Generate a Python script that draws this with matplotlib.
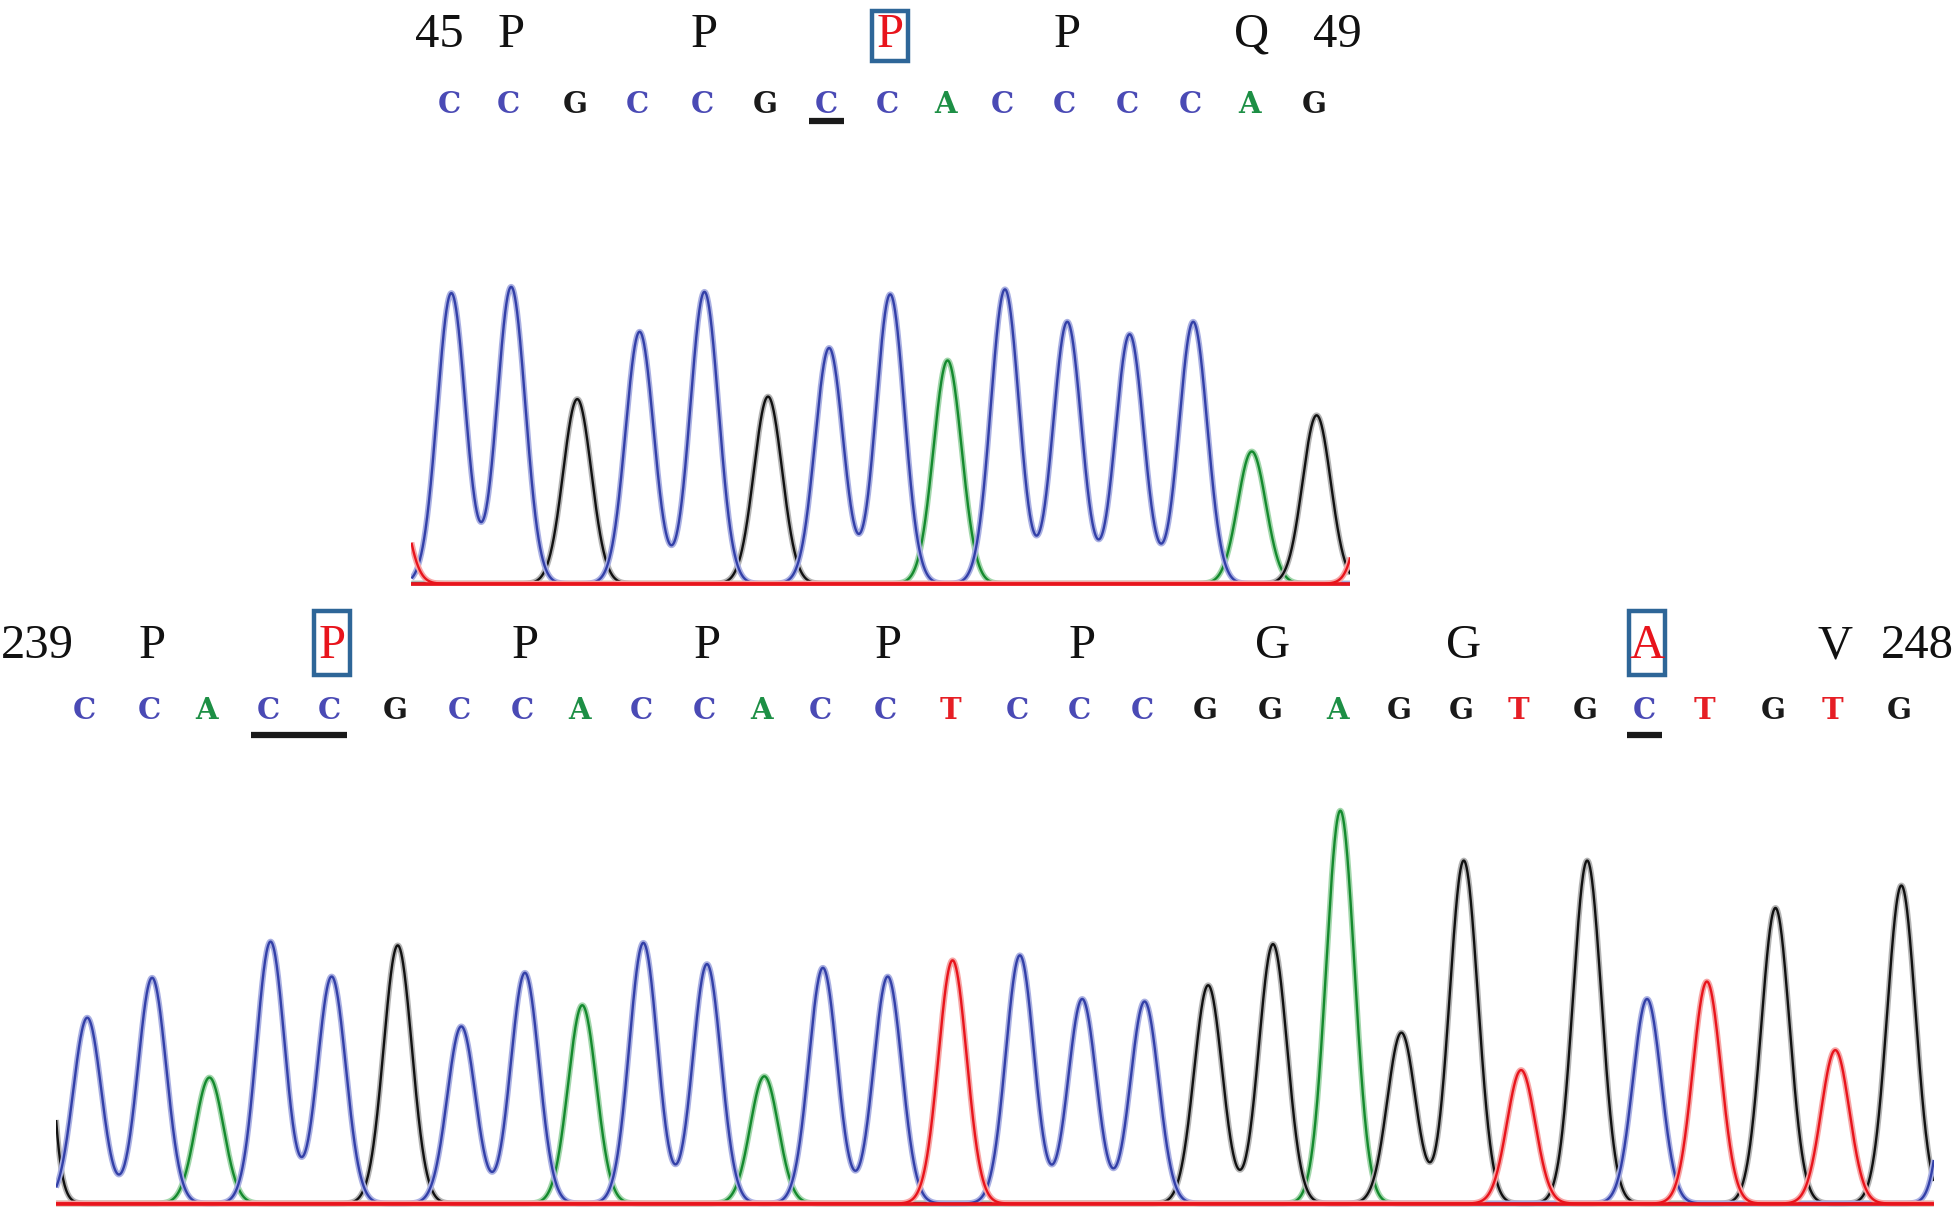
import matplotlib
matplotlib.use("Agg")
import matplotlib.pyplot as plt
from matplotlib.patches import Rectangle
import numpy as np

# ---- data ----
# x values are scan positions of the peaks (arbitrary units), heights in signal units

# upper read (codons 45-49)
top_bases = "CCGCCGCCACCCCAG"
top_pos = [362, 410, 463, 513, 565, 616, 665, 714, 760, 806, 856, 906, 957, 1004, 1056]
top_heights = [233, 238, 148, 202, 234, 150, 189, 232, 179, 236, 210, 200, 210, 106, 135]
top_aa = ["P", "P", "P", "P", "Q"]
top_num = ["45", "49"]
top_mut_codons = [2]
top_underlines = [(6, 6)]
# peaks just outside the shown window (only their tails are visible)
top_edge_bases = ["T", "T"]
top_edge_pos = [312, 1106]
top_edge_heights = [117, 167]

# lower read (codons 239-248)
bot_bases = "CCACCGCCACCACCTCCCGGAGGTGCTGTG"
bot_pos = [70, 122, 168, 217, 266, 319, 370, 421, 467, 516,
           567, 613, 660, 712, 764, 818, 868, 918, 969, 1021,
           1075, 1124, 1174, 1220, 1273, 1321, 1369, 1424, 1472, 1525]
bot_heights = [149, 181, 101, 210, 182, 207, 142, 185, 159, 209,
               192, 102, 189, 182, 195, 199, 164, 162, 175, 208,
               315, 137, 275, 107, 275, 164, 178, 237, 123, 255]
bot_aa = ["P", "P", "P", "P", "P", "P", "G", "G", "A", "V"]
bot_num = ["239", "248"]
bot_mut_codons = [1, 8]
bot_underlines = [(3, 4), (25, 25)]
bot_edge_bases = ["G", "C"]
bot_edge_pos = [20, 1575]
bot_edge_heights = [774, 333]

# ---- styles ----
trace_col = {"C": "#3340a8", "A": "#148a2e", "G": "#111111", "T": "#e8141c"}
halo_col = {"C": "#aab0e2", "A": "#a2d6ab", "G": "#b4b4b4", "T": "#f6a6a6"}
letter_col = {"C": "#4a4ab5", "A": "#1d8f45", "G": "#1a1a1a", "T": "#e61e25"}
mut_red = "#e8141c"
box_blue = "#2e6698"
SIGMA = 11.3
serif = ["Liberation Serif", "DejaVu Serif"]

fig = plt.figure(figsize=(19.55, 12.11), dpi=100)


def draw_panel(ax, bases, pos, heights, edge_b, edge_p, edge_h, xlim,
               aa, nums, num_x, mut_codons, underlines,
               y_aa, y_base, y_ul, box_y, under_black=False):
    x = np.linspace(xlim[0], xlim[1], 4000)
    pp = list(pos) + list(edge_p)
    bb = list(bases) + list(edge_b)
    hh = list(heights) + list(edge_h)
    if under_black:
        ax.plot(xlim, [-2.5, -2.5], color="#111111", lw=2.2, solid_capstyle="butt")
    for b in ["A", "G", "C", "T"]:
        y = np.zeros_like(x)
        for p, base, h in zip(pp, bb, hh):
            if base == b:
                y += h * np.exp(-(x - p) ** 2 / (2 * SIGMA ** 2))
        ax.plot(x, y, color=halo_col[b], lw=4.2, solid_capstyle="butt")
        ax.plot(x, y, color=trace_col[b], lw=1.7, solid_capstyle="butt")
    ax.plot(xlim, [0, 0], color=trace_col["T"], lw=2.6, solid_capstyle="butt")

    # called bases, drawn a touch left of their peaks as in the viewer
    for p, b in zip(pos, bases):
        ax.text(p - 2, y_base, b, color=letter_col[b], ha="center", va="center",
                fontsize=21, fontweight="bold", family="DejaVu Serif",
                clip_on=False)
    for a, b in underlines:
        ax.plot([pos[a] - 16, pos[b] + 12], [y_ul, y_ul], color="#1a1a1a", lw=4.5,
                solid_capstyle="butt", clip_on=False)

    # amino acids over the middle base of each codon
    for k, a in enumerate(aa):
        c = pos[3 * k + 1]
        col = mut_red if k in mut_codons else "#111111"
        ax.text(c, y_aa, a, color=col, ha="center", va="center",
                fontsize=35, family=serif, clip_on=False)
        if k in mut_codons:
            ax.add_patch(Rectangle((c - 14.5, box_y[0]), 29, box_y[1] - box_y[0],
                                   fill=False, ec=box_blue, lw=3.2, clip_on=False))
    for n, nx in zip(nums, num_x):
        ax.text(nx, y_aa, n, color="#111111", ha="center", va="center",
                fontsize=35, family=serif, clip_on=False)


# upper panel: baseline at display y 468 of 971
xl1 = (330, 1083)
ax1 = fig.add_axes([xl1[0] / 1568, 1 - 470 / 971, (xl1[1] - xl1[0]) / 1568, 470 / 971])
ax1.set_xlim(*xl1)
ax1.set_ylim(-2, 468)
ax1.axis("off")
draw_panel(ax1, top_bases, top_pos, top_heights, top_edge_bases, top_edge_pos,
           top_edge_heights, xl1, top_aa, top_num, [352, 1073], top_mut_codons,
           top_underlines, y_aa=440, y_base=384, y_ul=371, box_y=(419, 459),
           under_black=True)

# lower panel: baseline at display y 965
xl2 = (45, 1551)
ax2 = fig.add_axes([xl2[0] / 1568, 1 - 968 / 971, (xl2[1] - xl2[0]) / 1568, 490 / 971])
ax2.set_xlim(*xl2)
ax2.set_ylim(-3, 487)
ax2.axis("off")
draw_panel(ax2, bot_bases, bot_pos, bot_heights, bot_edge_bases, bot_edge_pos,
           bot_edge_heights, xl2, bot_aa, bot_num, [30, 1538], bot_mut_codons,
           bot_underlines, y_aa=447, y_base=395, y_ul=376, box_y=(424, 475))

fig.savefig("out.png", dpi=100)
